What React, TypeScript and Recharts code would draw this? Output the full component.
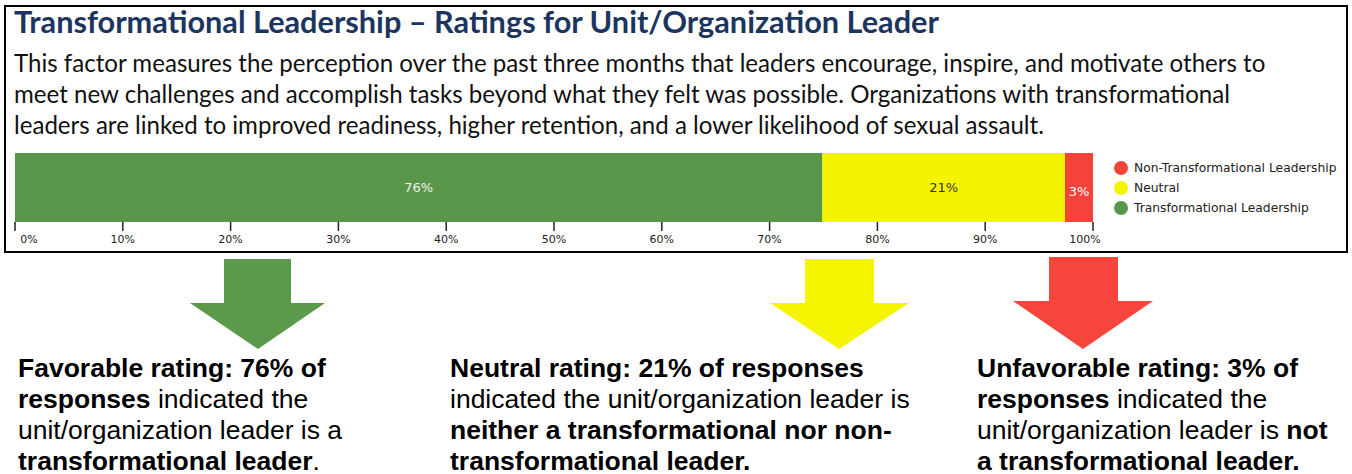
import React from "react";
import { BarChart, Bar, XAxis, YAxis, LabelList } from "recharts";

const categories = ["Unit/Organization Leader"];
const seriesNames = ["Transformational Leadership", "Neutral", "Non-Transformational Leadership"];
const transformational = [74.9];
const neutral = [22.5];
const nonTransformational = [2.6];
const barLabels = [["76%"], ["21%"], ["3%"]];
const xTicks = [0, 10, 20, 30, 40, 50, 60, 70, 80, 90, 100];

const GREEN = "#5A9649";
const YELLOW = "#F4F400";
const RED = "#F4433A";
const colors = [GREEN, YELLOW, RED];

const data = categories.map((name, i) => ({
  name,
  transformational: transformational[i],
  neutral: neutral[i],
  nonTransformational: nonTransformational[i],
  tLabel: barLabels[0][i],
  nLabel: barLabels[1][i],
  ntLabel: barLabels[2][i],
}));

const PercentTick = (props: any) => {
  const { x, y, payload } = props;
  let dx = 0;
  if (payload.value === 0) dx = 14;
  if (payload.value === 100) dx = -8;
  return (
    <text x={x + dx} y={y} dy="0.71em" textAnchor="middle" fontSize={11} fill="#222" fontFamily="DejaVu Sans">
      {payload.value}%
    </text>
  );
};

const Arrow = ({ s1, s2, top, head, h1, h2, tip, tipX, color }: any) => (
  <polygon
    points={`${s1},${top} ${s2},${top} ${s2},${head} ${h2},${head} ${tipX},${tip} ${h1},${head} ${s1},${head}`}
    fill={color}
  />
);

const textStyle: React.CSSProperties = {
  position: "absolute",
  top: 353,
  fontFamily: "'Liberation Sans', Arial, sans-serif",
  fontSize: 26.5,
  lineHeight: "31px",
  color: "#000",
  whiteSpace: "nowrap",
};

export default function App() {
  const legendOrder = [2, 1, 0];
  return (
    <div style={{ position: "absolute", left: 0, top: 0, width: 1352, height: 474, background: "#fff" }}>
      <div
        style={{
          position: "absolute",
          left: 4,
          top: 5,
          width: 1344,
          height: 248,
          border: "2px solid #000",
          boxSizing: "border-box",
        }}
      />
      <div
        style={{
          position: "absolute",
          left: 14,
          top: 3,
          fontFamily: "Lato, sans-serif",
          fontWeight: 700,
          fontSize: 30.7,
          color: "#1C355F",
          whiteSpace: "nowrap",
        }}
      >
        Transformational Leadership – Ratings for Unit/Organization Leader
      </div>
      <div
        style={{
          position: "absolute",
          left: 14,
          top: 46.5,
          fontFamily: "Lato, sans-serif",
          fontSize: 24.1,
          lineHeight: "31px",
          color: "#111",
          whiteSpace: "nowrap",
        }}
      >
        This factor measures the perception over the past three months that leaders encourage, inspire, and motivate others to
        <br />
        meet new challenges and accomplish tasks beyond what they felt was possible. Organizations with transformational
        <br />
        leaders are linked to improved readiness, higher retention, and a lower likelihood of sexual assault.
      </div>

      <div style={{ position: "absolute", left: 0, top: 140 }}>
        <BarChart
          width={1352}
          height={112}
          data={data}
          layout="vertical"
          barCategoryGap={0}
          margin={{ top: 13, right: 259, left: 15, bottom: 0 }}
        >
          <XAxis
            type="number"
            domain={[0, 100]}
            ticks={xTicks}
            axisLine={false}
            tickLine={{ stroke: "#222", strokeWidth: 1.5 }}
            tickSize={9}
            tickMargin={4}
            height={30}
            tick={<PercentTick />}
            interval={0}
          />
          <YAxis type="category" dataKey="name" hide width={0} />
          <Bar dataKey="transformational" stackId="a" fill={GREEN} isAnimationActive={false} name={seriesNames[0]}>
            <LabelList dataKey="tLabel" position="center" fill="#EEF3EA" fontSize={13} fontFamily="DejaVu Sans" />
          </Bar>
          <Bar dataKey="neutral" stackId="a" fill={YELLOW} isAnimationActive={false} name={seriesNames[1]}>
            <LabelList dataKey="nLabel" position="center" fill="#333" fontSize={13} fontFamily="DejaVu Sans" />
          </Bar>
          <Bar dataKey="nonTransformational" stackId="a" fill={RED} isAnimationActive={false} name={seriesNames[2]}>
            <LabelList dataKey="ntLabel" position="center" fill="#fff" fontSize={13} fontFamily="DejaVu Sans" offset={0} dy={4} />
          </Bar>
        </BarChart>
      </div>

      <div style={{ position: "absolute", left: 1114, top: 158 }}>
        {legendOrder.map((i) => (
          <div key={i} style={{ display: "flex", alignItems: "center", height: 20 }}>
            <span style={{ width: 14, height: 14, borderRadius: 7, background: colors[i], display: "inline-block" }} />
            <span style={{ marginLeft: 6, fontFamily: "DejaVu Sans", fontSize: 12.3, color: "#222" }}>{seriesNames[i]}</span>
          </div>
        ))}
      </div>

      <svg width={1352} height={474} style={{ position: "absolute", left: 0, top: 0 }}>
        <Arrow s1={224} s2={291} top={259} head={303} h1={190} h2={325} tipX={258} tip={349} color="#5B994B" />
        <Arrow s1={805} s2={874} top={259} head={303} h1={770} h2={909} tipX={839} tip={349} color="#F5F500" />
        <Arrow s1={1049} s2={1118} top={257} head={301} h1={1013} h2={1153} tipX={1083} tip={349} color="#F5453C" />
      </svg>

      <div style={{ ...textStyle, left: 18 }}>
        <b>Favorable rating: 76% of</b>
        <br />
        <b>responses</b> indicated the
        <br />
        unit/organization leader is a
        <br />
        <b>transformational leader</b>.
      </div>
      <div style={{ ...textStyle, left: 450 }}>
        <b>Neutral rating: 21% of responses</b>
        <br />
        indicated the unit/organization leader is
        <br />
        <b>neither a transformational nor non-</b>
        <br />
        <b>transformational leader.</b>
      </div>
      <div style={{ ...textStyle, left: 977 }}>
        <b>Unfavorable rating: 3% of</b>
        <br />
        <b>responses</b> indicated the
        <br />
        unit/organization leader is <b>not</b>
        <br />
        <b>a transformational leader.</b>
      </div>
    </div>
  );
}
